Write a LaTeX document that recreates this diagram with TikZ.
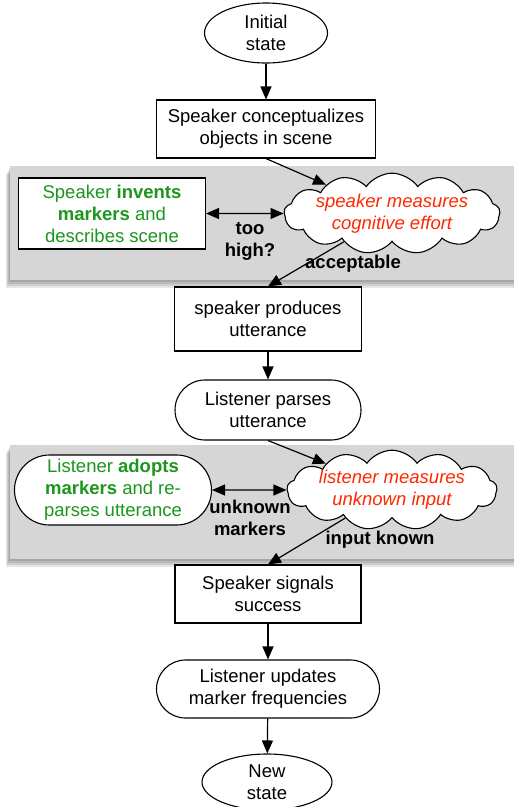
\documentclass[tikz,border=0pt]{standalone}
\usepackage{fontspec}
\setmainfont{Liberation Sans}
\usepackage{xcolor}
\usepackage{tikz}
\usetikzlibrary{arrows.meta,shapes.geometric,shapes.misc,shapes.symbols,shadows}
\definecolor{bandgray}{RGB}{214,214,214}
\definecolor{actgreen}{RGB}{28,150,28}
\definecolor{checkred}{RGB}{255,40,0}

\begin{document}
\begin{tikzpicture}[x=1pt, y=-1pt, font=\fontsize{18.5}{22}\selectfont,
  proc/.style={draw, line width=1.1pt, rectangle, align=center, inner sep=0pt},
  term/.style={draw, line width=1.1pt, ellipse, align=center, inner sep=0pt},
  stadium/.style={draw, line width=1.1pt, rounded rectangle, align=center, inner sep=0pt},
  think/.style={draw, line width=1.1pt, cloud, cloud puffs=13, cloud puff arc=110,
    cloud ignores aspect, fill=white, align=center, inner sep=0pt,
    text=checkred, font=\fontsize{18.5}{22}\selectfont\itshape},
  band/.style={fill=bandgray, draw=none,
    general shadow={fill=black, opacity=0.10, shadow xshift=-1pt, shadow yshift=-2pt},
    general shadow={fill=black, opacity=0.10, shadow xshift=-2pt, shadow yshift=-4pt},
    general shadow={fill=black, opacity=0.10, shadow xshift=-3pt, shadow yshift=-6pt},
    general shadow={fill=black, opacity=0.10, shadow xshift=-4pt, shadow yshift=-8pt}},
  flow/.style={line width=1.2pt, -{Triangle[length=13pt,width=11pt]}},
  twoway/.style={line width=1.2pt, {Triangle[length=13pt,width=11pt]}-{Triangle[length=13pt,width=11pt]}},
  lab/.style={font=\fontsize{18.5}{22}\selectfont\bfseries, align=center}]
\useasboundingbox (0,0) rectangle (514,807);
% ---- grey bands ----
\fill[band] (10,166) rectangle (530,280);
\fill[band] (10,445) rectangle (530,559);
% ---- speaker side ----
\node[term, fill=white, minimum width=123, minimum height=60] (init) at (266,33) {Initial\\state};
\node[proc, fill=white, minimum width=219, minimum height=58] (concept) at (266,129)
  {Speaker conceptualizes\\objects in scene};
\node[proc, fill=white, text=actgreen, minimum width=187, minimum height=71] (invent) at (112,213.5)
  {Speaker \textbf{invents}\\\textbf{markers} and\\describes scene};
\node[think, minimum width=212, minimum height=52] (effort) at (392,213.5)
  {speaker measures\\cognitive effort};
\node[proc, fill=white, minimum width=187, minimum height=64] (produce) at (268,319)
  {speaker produces\\utterance};
% ---- listener side ----
\node[stadium, fill=white, minimum width=186, minimum height=60] (parse) at (268,410)
  {Listener parses\\utterance};
\node[stadium, fill=white, text=actgreen, minimum width=197, minimum height=70] (adopt) at (113,490)
  {Listener \textbf{adopts}\\\textbf{markers} and re-\\parses utterance};
\node[think, minimum width=210, minimum height=50] (unknown) at (392,490)
  {listener measures\\unknown input};
\node[proc, fill=white, minimum width=186, minimum height=58] (signal) at (268,594)
  {Speaker signals\\success};
\node[stadium, fill=white, minimum width=223, minimum height=58] (update) at (268,689)
  {Listener updates\\marker frequencies};
\node[term, fill=white, minimum width=130, minimum height=56] (newstate) at (267,782) {New\\state};
% ---- connectors ----
\draw[flow] (init) -- (concept);
\draw[flow] (concept.south) -- (effort);
\draw[twoway] (invent) -- (effort);
\draw[flow] (effort) -- (produce.north);
\draw[flow] (produce) -- (parse);
\draw[flow] (parse.south) -- (unknown);
\draw[twoway] (adopt) -- (unknown);
\draw[flow] (unknown) -- (signal.north);
\draw[flow] (signal) -- (update);
\draw[flow] (update) -- (newstate);
% ---- labels ----
\node[lab] (toohigh) at (250,241) {too\\high?};
\node[lab] (accept) at (353,264) {acceptable};
\node[lab] (unkmark) at (250,518) {unknown\\markers};
\node[lab] (known) at (380,540) {input known};
\end{tikzpicture}
\end{document}
